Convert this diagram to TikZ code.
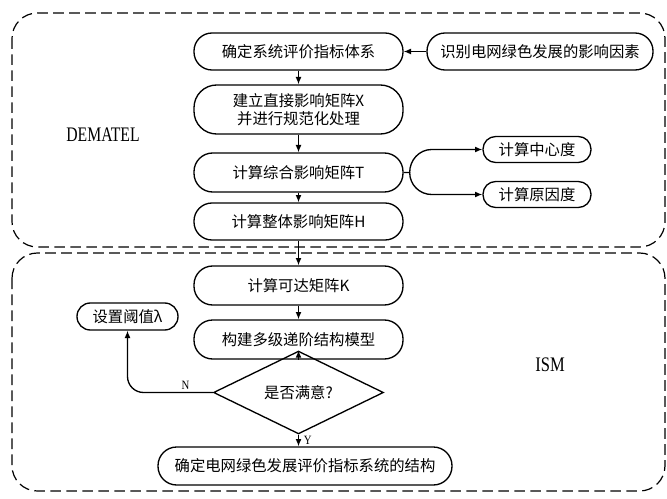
\documentclass[tikz,border=0pt]{standalone}
\usepackage{fontspec}
\setmainfont{Liberation Serif}
\newfontfamily\cjk{Noto Sans CJK SC}
\usetikzlibrary{arrows.meta,shapes.geometric}
\begin{document}
\begin{tikzpicture}[x=0.75pt,y=-0.75pt,
  box/.style={draw, line width=1pt, inner sep=0pt, align=center,
    font=\cjk\fontsize{11.5pt}{13.5pt}\selectfont},
  frame/.style={draw, line width=0.9pt, dash pattern=on 8pt off 4pt, rounded corners=19pt},
  arr/.style={line width=1pt, -{Latex[length=5.5pt,width=4.5pt]}},
  biglabel/.style={font=\fontsize{15.5pt}{15.5pt}\selectfont},
  smalllabel/.style={font=\fontsize{9.5pt}{10pt}\selectfont, inner sep=1.5pt}]
\useasboundingbox (0,0) rectangle (667,499);
% containers
\draw[frame] (12,13) rectangle (665,247);
\draw[frame] (12,253) rectangle (665,491);
% labels
\node[biglabel] (dem) at (103,135) {\scalebox{0.76}[1]{DEMATEL}};
\node[biglabel] (ism) at (550,365) {\scalebox{0.8}[1]{ISM}};
% DEMATEL nodes
\node[box, minimum width=156.75pt, minimum height=27.75pt, rounded corners=13.5pt] (A) at (298.5,51.5) {确定系统评价指标体系};
\node[box, minimum width=169.5pt, minimum height=27.75pt, rounded corners=13.5pt] (F) at (540,51.5) {识别电网绿色发展的影响因素};
\node[box, minimum width=156.75pt, minimum height=36.75pt, rounded corners=17pt] (B) at (298.5,109.5) {建立直接影响矩阵X\\并进行规范化处理};
\node[box, minimum width=156.75pt, minimum height=29.25pt, rounded corners=14pt] (C) at (298.5,172.5) {计算综合影响矩阵T};
\node[box, minimum width=81pt, minimum height=19.5pt, rounded corners=9.5pt] (D) at (537,149.5) {计算中心度};
\node[box, minimum width=81pt, minimum height=19.5pt, rounded corners=9.5pt] (E) at (537,194.5) {计算原因度};
\node[box, minimum width=156.75pt, minimum height=27.75pt, rounded corners=13.5pt] (G) at (298.5,221.5) {计算整体影响矩阵H};
% ISM nodes
\node[box, minimum width=156.75pt, minimum height=29.25pt, rounded corners=14pt] (K) at (298.5,285.5) {计算可达矩阵K};
\node[box, minimum width=75.75pt, minimum height=20.25pt, rounded corners=10pt] (S) at (127.5,316.5) {设置阈值λ};
\node[box, minimum width=156.75pt, minimum height=29.25pt, rounded corners=14pt] (M) at (298.5,339.5) {构建多级递阶结构模型};
\node[box, shape=diamond, rounded corners=0pt, minimum width=127.5pt, minimum height=29.25pt] (Q) at (298.5,392.5) {是否满意?};
\node[box, minimum width=220.5pt, minimum height=28.5pt, rounded corners=14pt] (Z) at (305,466) {确定电网绿色发展评价指标系统的结构};
% connectors
\draw[arr] (F.west) -- (A.east);
\draw[arr] (A.south) -- (B.north);
\draw[arr] (B.south) -- (C.north);
\draw[arr] (C.south) -- (G.north);
\draw[arr] (C.east) -- ++(6,0) coordinate (j) to[out=90,in=180] ([xshift=-38pt]D.west) -- (D.west);
\draw[arr] (j) to[out=-90,in=180] ([xshift=-38pt]E.west) -- (E.west);
\draw[arr] (G.south) -- (K.north);
\draw[arr] (K.south) -- (M.north);
\draw[arr] (M.south) -- (Q.north);
\draw[arr] (Q.south) -- node[smalllabel, right=2pt, pos=0.45] {\scalebox{0.85}[1]{Y}} (Z.north -| Q.south);
\draw[arr, rounded corners=12pt] (Q.west) -| node[smalllabel, pos=0.16, above] {\scalebox{0.85}[1]{N}} (S.south);
\end{tikzpicture}
\end{document}
